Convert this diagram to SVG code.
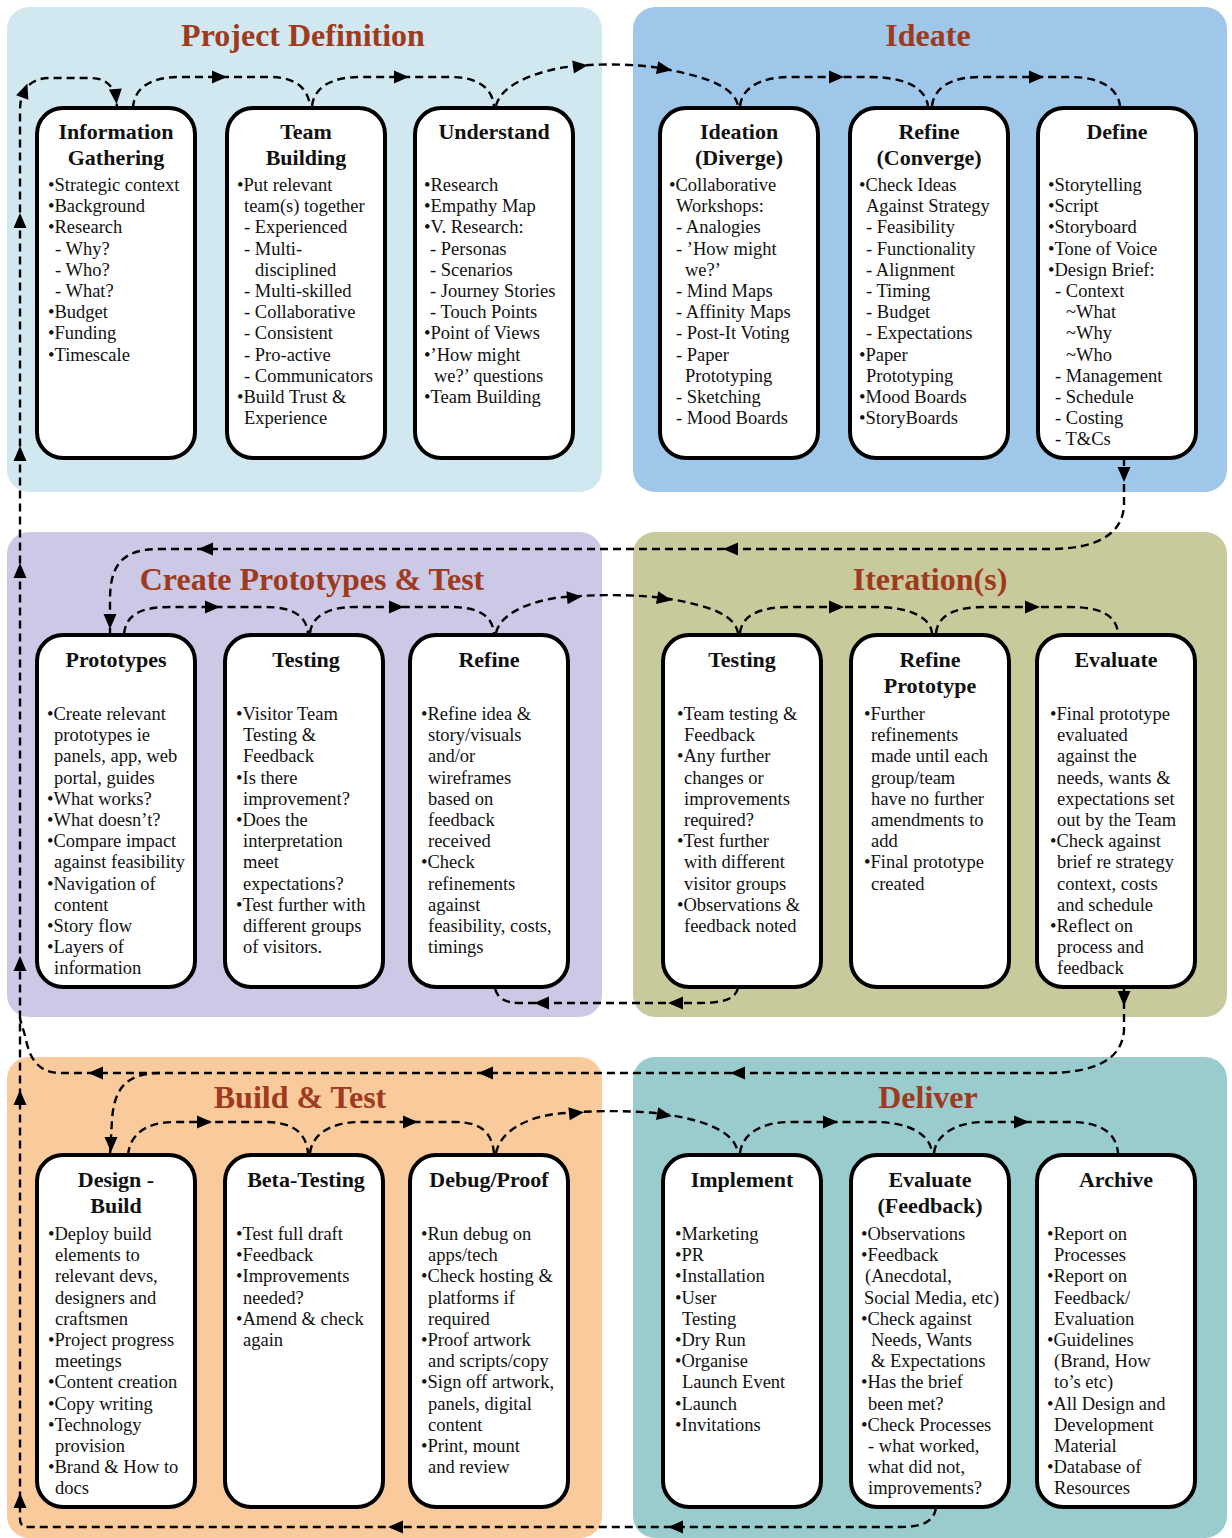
<svg xmlns="http://www.w3.org/2000/svg" xmlns:xlink="http://www.w3.org/1999/xlink" width="1232" height="1538" viewBox="0 0 1232 1538">
<style>
text{font-family:"Liberation Serif","Times New Roman",serif;fill:#111}
.pt{font-size:32px;font-weight:bold;fill:#9e3a20;text-anchor:middle}
.nt{font-size:22px;font-weight:bold;text-anchor:middle}
.bt{font-size:18.5px}
.box{fill:#fff;stroke:#000;stroke-width:4}
.con{fill:none;stroke:#000;stroke-width:2.4;stroke-dasharray:8 5}
</style>
<defs>
<path id="ah" d="M7,0 L-8,-6.5 L-8,6.5 Z" fill="#000"/>
</defs>
<g id="panels">
<rect x="7" y="7" width="595" height="485" rx="22" fill="#d2e8f0"/>
<rect x="633" y="7" width="594" height="485" rx="22" fill="#9fc7ea"/>
<rect x="7" y="532" width="595" height="485" rx="22" fill="#cbc9e5"/>
<rect x="633" y="532" width="594" height="485" rx="22" fill="#c9ca9c"/>
<rect x="7" y="1057" width="595" height="481" rx="22" fill="#f9cb9c"/>
<rect x="633" y="1057" width="594" height="481" rx="22" fill="#9bcccd"/>
<text class="pt" x="303" y="46">Project Definition</text>
<text class="pt" x="928" y="46">Ideate</text>
<text class="pt" x="312" y="590">Create Prototypes &amp; Test</text>
<text class="pt" x="930" y="590">Iteration(s)</text>
<text class="pt" x="300" y="1108">Build &amp; Test</text>
<text class="pt" x="928" y="1108">Deliver</text>
</g>

<g id="connectors">
<path class="con" d="M936,1508 C934,1520 925,1527 900,1527 L28,1527 Q20,1527 20,1519 L20,110 C20,90 30,78 50,78 L90,78 C108,78 116,88 117,108"/>
<path class="con" d="M133,108 C134,88 150,77 180,77 L270,77 C295,77 308,88 310,106"/>
<path class="con" d="M312,106 C314,88 330,77 360,77 L450,77 C478,77 492,88 494,106"/>
<path class="con" d="M496,106 C500,88 525,75 560,68 C590,63 640,63 670,70 C710,78 735,88 738,106"/>
<path class="con" d="M740,106 C742,88 760,77 790,77 L870,77 C900,77 925,85 928,106"/>
<path class="con" d="M932,106 C934,88 950,77 980,77 L1070,77 C1100,77 1118,88 1120,106"/>
<path class="con" d="M1124,458 L1124,505 C1123,535 1095,549 1050,549 L160,549 C122,549 110,565 110,600 L110,634"/>
<path class="con" d="M124,634 C126,615 140,607 170,607 L265,607 C292,607 306,615 308,633"/>
<path class="con" d="M310,633 C312,615 330,607 355,607 L450,607 C478,607 492,615 494,633"/>
<path class="con" d="M496,633 C500,615 525,603 555,598 C590,594 640,594 670,599 C710,606 735,615 738,633"/>
<path class="con" d="M740,633 C742,615 760,607 790,607 L875,607 C905,607 930,615 932,633"/>
<path class="con" d="M936,633 C938,615 955,607 985,607 L1070,607 C1100,607 1116,615 1118,633"/>
<path class="con" d="M738,988 C736,998 725,1003 700,1003 L520,1003 C505,1003 497,998 495,988"/>
<path class="con" d="M1124,988 L1124,1030 C1122,1060 1095,1073 1045,1073 L60,1073 C40,1073 30,1060 26,1040 C24,1030 21,1025 20,1018"/>
<path class="con" d="M160,1073 C125,1073 114,1090 112,1120 L110,1155"/>
<path class="con" d="M128,1155 C130,1135 145,1122 175,1122 L265,1122 C292,1122 306,1132 308,1153"/>
<path class="con" d="M310,1153 C312,1135 330,1122 360,1122 L455,1122 C480,1122 492,1132 494,1153"/>
<path class="con" d="M496,1153 C500,1132 525,1118 555,1114 C590,1110 640,1110 670,1115 C710,1122 735,1133 738,1153"/>
<path class="con" d="M740,1153 C742,1135 760,1122 790,1122 L875,1122 C905,1122 930,1132 932,1153"/>
<path class="con" d="M934,1153 C936,1135 955,1122 985,1122 L1070,1122 C1100,1122 1116,1132 1118,1153"/>
<use xlink:href="#ah" transform="translate(675,1527) rotate(180)"/>
<use xlink:href="#ah" transform="translate(395,1527) rotate(180)"/>
<use xlink:href="#ah" transform="translate(20,1500) rotate(-90)"/>
<use xlink:href="#ah" transform="translate(20,1097) rotate(-90)"/>
<use xlink:href="#ah" transform="translate(20,963) rotate(-90)"/>
<use xlink:href="#ah" transform="translate(20,570) rotate(-90)"/>
<use xlink:href="#ah" transform="translate(20,453) rotate(-90)"/>
<use xlink:href="#ah" transform="translate(20,220) rotate(-90)"/>
<use xlink:href="#ah" transform="translate(25,90) rotate(-70)"/>
<use xlink:href="#ah" transform="translate(116,97) rotate(85)"/>
<use xlink:href="#ah" transform="translate(220,77)"/>
<use xlink:href="#ah" transform="translate(402,77)"/>
<use xlink:href="#ah" transform="translate(581,66) rotate(-7)"/>
<use xlink:href="#ah" transform="translate(665,69) rotate(10)"/>
<use xlink:href="#ah" transform="translate(837,77)"/>
<use xlink:href="#ah" transform="translate(1037,77)"/>
<use xlink:href="#ah" transform="translate(1124,475) rotate(90)"/>
<use xlink:href="#ah" transform="translate(730,549) rotate(180)"/>
<use xlink:href="#ah" transform="translate(205,549) rotate(180)"/>
<use xlink:href="#ah" transform="translate(110,622) rotate(90)"/>
<use xlink:href="#ah" transform="translate(213,607)"/>
<use xlink:href="#ah" transform="translate(397,607)"/>
<use xlink:href="#ah" transform="translate(575,597) rotate(-5)"/>
<use xlink:href="#ah" transform="translate(665,599) rotate(10)"/>
<use xlink:href="#ah" transform="translate(837,607)"/>
<use xlink:href="#ah" transform="translate(1033,607)"/>
<use xlink:href="#ah" transform="translate(675,1003) rotate(180)"/>
<use xlink:href="#ah" transform="translate(541,1003) rotate(180)"/>
<use xlink:href="#ah" transform="translate(1124,999) rotate(90)"/>
<use xlink:href="#ah" transform="translate(737,1073) rotate(180)"/>
<use xlink:href="#ah" transform="translate(485,1073) rotate(180)"/>
<use xlink:href="#ah" transform="translate(95,1073) rotate(180)"/>
<use xlink:href="#ah" transform="translate(111,1145) rotate(90)"/>
<use xlink:href="#ah" transform="translate(205,1122)"/>
<use xlink:href="#ah" transform="translate(411,1122)"/>
<use xlink:href="#ah" transform="translate(577,1113) rotate(-6)"/>
<use xlink:href="#ah" transform="translate(665,1115) rotate(10)"/>
<use xlink:href="#ah" transform="translate(831,1122)"/>
<use xlink:href="#ah" transform="translate(1022,1122)"/>
</g>

<g id="node-information-gathering">
<rect class="box" x="37" y="108" width="158" height="350" rx="26"/>
<text class="nt" x="116" y="139">Information</text>
<text class="nt" x="116" y="165">Gathering</text>
<text class="bt" y="191"><tspan x="48">•Strategic context</tspan><tspan x="48" dy="21.2">•Background</tspan><tspan x="48" dy="21.2">•Research</tspan><tspan x="55" dy="21.2">- Why?</tspan><tspan x="55" dy="21.2">- Who?</tspan><tspan x="55" dy="21.2">- What?</tspan><tspan x="48" dy="21.2">•Budget</tspan><tspan x="48" dy="21.2">•Funding</tspan><tspan x="48" dy="21.2">•Timescale</tspan></text>
</g>

<g id="node-team-building">
<rect class="box" x="227" y="108" width="158" height="350" rx="26"/>
<text class="nt" x="306" y="139">Team</text>
<text class="nt" x="306" y="165">Building</text>
<text class="bt" y="191"><tspan x="237">•Put relevant</tspan><tspan x="244" dy="21.2">team(s) together</tspan><tspan x="244" dy="21.2">- Experienced</tspan><tspan x="244" dy="21.2">- Multi-</tspan><tspan x="255" dy="21.2">disciplined</tspan><tspan x="244" dy="21.2">- Multi-skilled</tspan><tspan x="244" dy="21.2">- Collaborative</tspan><tspan x="244" dy="21.2">- Consistent</tspan><tspan x="244" dy="21.2">- Pro-active</tspan><tspan x="244" dy="21.2">- Communicators</tspan><tspan x="237" dy="21.2">•Build Trust &amp;</tspan><tspan x="244" dy="21.2">Experience</tspan></text>
</g>

<g id="node-understand">
<rect class="box" x="415" y="108" width="158" height="350" rx="26"/>
<text class="nt" x="494" y="139">Understand</text>
<text class="bt" y="191"><tspan x="424">•Research</tspan><tspan x="424" dy="21.2">•Empathy Map</tspan><tspan x="424" dy="21.2">•V. Research:</tspan><tspan x="430" dy="21.2">- Personas</tspan><tspan x="430" dy="21.2">- Scenarios</tspan><tspan x="430" dy="21.2">- Journey Stories</tspan><tspan x="430" dy="21.2">- Touch Points</tspan><tspan x="424" dy="21.2">•Point of Views</tspan><tspan x="424" dy="21.2">•’How might</tspan><tspan x="434" dy="21.2">we?’ questions</tspan><tspan x="424" dy="21.2">•Team Building</tspan></text>
</g>

<g id="node-ideation">
<rect class="box" x="660" y="108" width="158" height="350" rx="26"/>
<text class="nt" x="739" y="139">Ideation</text>
<text class="nt" x="739" y="165">(Diverge)</text>
<text class="bt" y="191"><tspan x="669">•Collaborative</tspan><tspan x="676" dy="21.2">Workshops:</tspan><tspan x="676" dy="21.2">- Analogies</tspan><tspan x="676" dy="21.2">- ’How might</tspan><tspan x="685" dy="21.2">we?’</tspan><tspan x="676" dy="21.2">- Mind Maps</tspan><tspan x="676" dy="21.2">- Affinity Maps</tspan><tspan x="676" dy="21.2">- Post-It Voting</tspan><tspan x="676" dy="21.2">- Paper</tspan><tspan x="685" dy="21.2">Prototyping</tspan><tspan x="676" dy="21.2">- Sketching</tspan><tspan x="676" dy="21.2">- Mood Boards</tspan></text>
</g>

<g id="node-refine-converge">
<rect class="box" x="850" y="108" width="158" height="350" rx="26"/>
<text class="nt" x="929" y="139">Refine</text>
<text class="nt" x="929" y="165">(Converge)</text>
<text class="bt" y="191"><tspan x="859">•Check Ideas</tspan><tspan x="866" dy="21.2">Against Strategy</tspan><tspan x="866" dy="21.2">- Feasibility</tspan><tspan x="866" dy="21.2">- Functionality</tspan><tspan x="866" dy="21.2">- Alignment</tspan><tspan x="866" dy="21.2">- Timing</tspan><tspan x="866" dy="21.2">- Budget</tspan><tspan x="866" dy="21.2">- Expectations</tspan><tspan x="859" dy="21.2">•Paper</tspan><tspan x="866" dy="21.2">Prototyping</tspan><tspan x="859" dy="21.2">•Mood Boards</tspan><tspan x="859" dy="21.2">•StoryBoards</tspan></text>
</g>

<g id="node-define">
<rect class="box" x="1038" y="108" width="158" height="350" rx="26"/>
<text class="nt" x="1117" y="139">Define</text>
<text class="bt" y="191"><tspan x="1048">•Storytelling</tspan><tspan x="1048" dy="21.2">•Script</tspan><tspan x="1048" dy="21.2">•Storyboard</tspan><tspan x="1048" dy="21.2">•Tone of Voice</tspan><tspan x="1048" dy="21.2">•Design Brief:</tspan><tspan x="1055" dy="21.2">- Context</tspan><tspan x="1066" dy="21.2">~What</tspan><tspan x="1066" dy="21.2">~Why</tspan><tspan x="1066" dy="21.2">~Who</tspan><tspan x="1055" dy="21.2">- Management</tspan><tspan x="1055" dy="21.2">- Schedule</tspan><tspan x="1055" dy="21.2">- Costing</tspan><tspan x="1055" dy="21.2">- T&amp;Cs</tspan></text>
</g>

<g id="node-prototypes">
<rect class="box" x="37" y="635" width="158" height="352" rx="26"/>
<text class="nt" x="116" y="667">Prototypes</text>
<text class="bt" y="720"><tspan x="47">•Create relevant</tspan><tspan x="54" dy="21.2">prototypes ie</tspan><tspan x="54" dy="21.2">panels, app, web</tspan><tspan x="54" dy="21.2">portal, guides</tspan><tspan x="47" dy="21.2">•What works?</tspan><tspan x="47" dy="21.2">•What doesn’t?</tspan><tspan x="47" dy="21.2">•Compare impact</tspan><tspan x="54" dy="21.2">against feasibility</tspan><tspan x="47" dy="21.2">•Navigation of</tspan><tspan x="54" dy="21.2">content</tspan><tspan x="47" dy="21.2">•Story flow</tspan><tspan x="47" dy="21.2">•Layers of</tspan><tspan x="54" dy="21.2">information</tspan></text>
</g>

<g id="node-testing-1">
<rect class="box" x="225" y="635" width="158" height="352" rx="26"/>
<text class="nt" x="306" y="667">Testing</text>
<text class="bt" y="720"><tspan x="236">•Visitor Team</tspan><tspan x="243" dy="21.2">Testing &amp;</tspan><tspan x="243" dy="21.2">Feedback</tspan><tspan x="236" dy="21.2">•Is there</tspan><tspan x="243" dy="21.2">improvement?</tspan><tspan x="236" dy="21.2">•Does the</tspan><tspan x="243" dy="21.2">interpretation</tspan><tspan x="243" dy="21.2">meet</tspan><tspan x="243" dy="21.2">expectations?</tspan><tspan x="236" dy="21.2">•Test further with</tspan><tspan x="243" dy="21.2">different groups</tspan><tspan x="243" dy="21.2">of visitors.</tspan></text>
</g>

<g id="node-refine-1">
<rect class="box" x="410" y="635" width="158" height="352" rx="26"/>
<text class="nt" x="489" y="667">Refine</text>
<text class="bt" y="720"><tspan x="421">•Refine idea &amp;</tspan><tspan x="428" dy="21.2">story/visuals</tspan><tspan x="428" dy="21.2">and/or</tspan><tspan x="428" dy="21.2">wireframes</tspan><tspan x="428" dy="21.2">based on</tspan><tspan x="428" dy="21.2">feedback</tspan><tspan x="428" dy="21.2">received</tspan><tspan x="421" dy="21.2">•Check</tspan><tspan x="428" dy="21.2">refinements</tspan><tspan x="428" dy="21.2">against</tspan><tspan x="428" dy="21.2">feasibility, costs,</tspan><tspan x="428" dy="21.2">timings</tspan></text>
</g>

<g id="node-testing-2">
<rect class="box" x="663" y="635" width="158" height="352" rx="26"/>
<text class="nt" x="742" y="667">Testing</text>
<text class="bt" y="720"><tspan x="677">•Team testing &amp;</tspan><tspan x="684" dy="21.2">Feedback</tspan><tspan x="677" dy="21.2">•Any further</tspan><tspan x="684" dy="21.2">changes or</tspan><tspan x="684" dy="21.2">improvements</tspan><tspan x="684" dy="21.2">required?</tspan><tspan x="677" dy="21.2">•Test further</tspan><tspan x="684" dy="21.2">with different</tspan><tspan x="684" dy="21.2">visitor groups</tspan><tspan x="677" dy="21.2">•Observations &amp;</tspan><tspan x="684" dy="21.2">feedback noted</tspan></text>
</g>

<g id="node-refine-prototype">
<rect class="box" x="851" y="635" width="158" height="352" rx="26"/>
<text class="nt" x="930" y="667">Refine</text>
<text class="nt" x="930" y="693">Prototype</text>
<text class="bt" y="720"><tspan x="864">•Further</tspan><tspan x="871" dy="21.2">refinements</tspan><tspan x="871" dy="21.2">made until each</tspan><tspan x="871" dy="21.2">group/team</tspan><tspan x="871" dy="21.2">have no further</tspan><tspan x="871" dy="21.2">amendments to</tspan><tspan x="871" dy="21.2">add</tspan><tspan x="864" dy="21.2">•Final prototype</tspan><tspan x="871" dy="21.2">created</tspan></text>
</g>

<g id="node-evaluate">
<rect class="box" x="1037" y="635" width="158" height="352" rx="26"/>
<text class="nt" x="1116" y="667">Evaluate</text>
<text class="bt" y="720"><tspan x="1050">•Final prototype</tspan><tspan x="1057" dy="21.2">evaluated</tspan><tspan x="1057" dy="21.2">against the</tspan><tspan x="1057" dy="21.2">needs, wants &amp;</tspan><tspan x="1057" dy="21.2">expectations set</tspan><tspan x="1057" dy="21.2">out by the Team</tspan><tspan x="1050" dy="21.2">•Check against</tspan><tspan x="1057" dy="21.2">brief re strategy</tspan><tspan x="1057" dy="21.2">context, costs</tspan><tspan x="1057" dy="21.2">and schedule</tspan><tspan x="1050" dy="21.2">•Reflect on</tspan><tspan x="1057" dy="21.2">process and</tspan><tspan x="1057" dy="21.2">feedback</tspan></text>
</g>

<g id="node-design-build">
<rect class="box" x="37" y="1155" width="158" height="352" rx="26"/>
<text class="nt" x="116" y="1187">Design -</text>
<text class="nt" x="116" y="1213">Build</text>
<text class="bt" y="1240"><tspan x="48">•Deploy build</tspan><tspan x="55" dy="21.2">elements to</tspan><tspan x="55" dy="21.2">relevant devs,</tspan><tspan x="55" dy="21.2">designers and</tspan><tspan x="55" dy="21.2">craftsmen</tspan><tspan x="48" dy="21.2">•Project progress</tspan><tspan x="55" dy="21.2">meetings</tspan><tspan x="48" dy="21.2">•Content creation</tspan><tspan x="48" dy="21.2">•Copy writing</tspan><tspan x="48" dy="21.2">•Technology</tspan><tspan x="55" dy="21.2">provision</tspan><tspan x="48" dy="21.2">•Brand &amp; How to</tspan><tspan x="55" dy="21.2">docs</tspan></text>
</g>

<g id="node-beta-testing">
<rect class="box" x="225" y="1155" width="158" height="352" rx="26"/>
<text class="nt" x="306" y="1187">Beta-Testing</text>
<text class="bt" y="1240"><tspan x="236">•Test full draft</tspan><tspan x="236" dy="21.2">•Feedback</tspan><tspan x="236" dy="21.2">•Improvements</tspan><tspan x="243" dy="21.2">needed?</tspan><tspan x="236" dy="21.2">•Amend &amp; check</tspan><tspan x="243" dy="21.2">again</tspan></text>
</g>

<g id="node-debug-proof">
<rect class="box" x="410" y="1155" width="158" height="352" rx="26"/>
<text class="nt" x="489" y="1187">Debug/Proof</text>
<text class="bt" y="1240"><tspan x="421">•Run debug on</tspan><tspan x="428" dy="21.2">apps/tech</tspan><tspan x="421" dy="21.2">•Check hosting &amp;</tspan><tspan x="428" dy="21.2">platforms if</tspan><tspan x="428" dy="21.2">required</tspan><tspan x="421" dy="21.2">•Proof artwork</tspan><tspan x="428" dy="21.2">and scripts/copy</tspan><tspan x="421" dy="21.2">•Sign off artwork,</tspan><tspan x="428" dy="21.2">panels, digital</tspan><tspan x="428" dy="21.2">content</tspan><tspan x="421" dy="21.2">•Print, mount</tspan><tspan x="428" dy="21.2">and review</tspan></text>
</g>

<g id="node-implement">
<rect class="box" x="663" y="1155" width="158" height="352" rx="26"/>
<text class="nt" x="742" y="1187">Implement</text>
<text class="bt" y="1240"><tspan x="675">•Marketing</tspan><tspan x="675" dy="21.2">•PR</tspan><tspan x="675" dy="21.2">•Installation</tspan><tspan x="675" dy="21.2">•User</tspan><tspan x="682" dy="21.2">Testing</tspan><tspan x="675" dy="21.2">•Dry Run</tspan><tspan x="675" dy="21.2">•Organise</tspan><tspan x="682" dy="21.2">Launch Event</tspan><tspan x="675" dy="21.2">•Launch</tspan><tspan x="675" dy="21.2">•Invitations</tspan></text>
</g>

<g id="node-evaluate-feedback">
<rect class="box" x="851" y="1155" width="158" height="352" rx="26"/>
<text class="nt" x="930" y="1187">Evaluate</text>
<text class="nt" x="930" y="1213">(Feedback)</text>
<text class="bt" y="1240"><tspan x="861">•Observations</tspan><tspan x="861" dy="21.2">•Feedback</tspan><tspan x="865" dy="21.2">(Anecdotal,</tspan><tspan x="864" dy="21.2">Social Media, etc)</tspan><tspan x="861" dy="21.2">•Check against</tspan><tspan x="871" dy="21.2">Needs, Wants</tspan><tspan x="871" dy="21.2">&amp; Expectations</tspan><tspan x="861" dy="21.2">•Has the brief</tspan><tspan x="868" dy="21.2">been met?</tspan><tspan x="861" dy="21.2">•Check Processes</tspan><tspan x="868" dy="21.2">- what worked,</tspan><tspan x="868" dy="21.2">what did not,</tspan><tspan x="868" dy="21.2">improvements?</tspan></text>
</g>

<g id="node-archive">
<rect class="box" x="1037" y="1155" width="158" height="352" rx="26"/>
<text class="nt" x="1116" y="1187">Archive</text>
<text class="bt" y="1240"><tspan x="1047">•Report on</tspan><tspan x="1054" dy="21.2">Processes</tspan><tspan x="1047" dy="21.2">•Report on</tspan><tspan x="1054" dy="21.2">Feedback/</tspan><tspan x="1054" dy="21.2">Evaluation</tspan><tspan x="1047" dy="21.2">•Guidelines</tspan><tspan x="1054" dy="21.2">(Brand, How</tspan><tspan x="1054" dy="21.2">to’s etc)</tspan><tspan x="1047" dy="21.2">•All Design and</tspan><tspan x="1054" dy="21.2">Development</tspan><tspan x="1054" dy="21.2">Material</tspan><tspan x="1047" dy="21.2">•Database of</tspan><tspan x="1054" dy="21.2">Resources</tspan></text>
</g>
</svg>
